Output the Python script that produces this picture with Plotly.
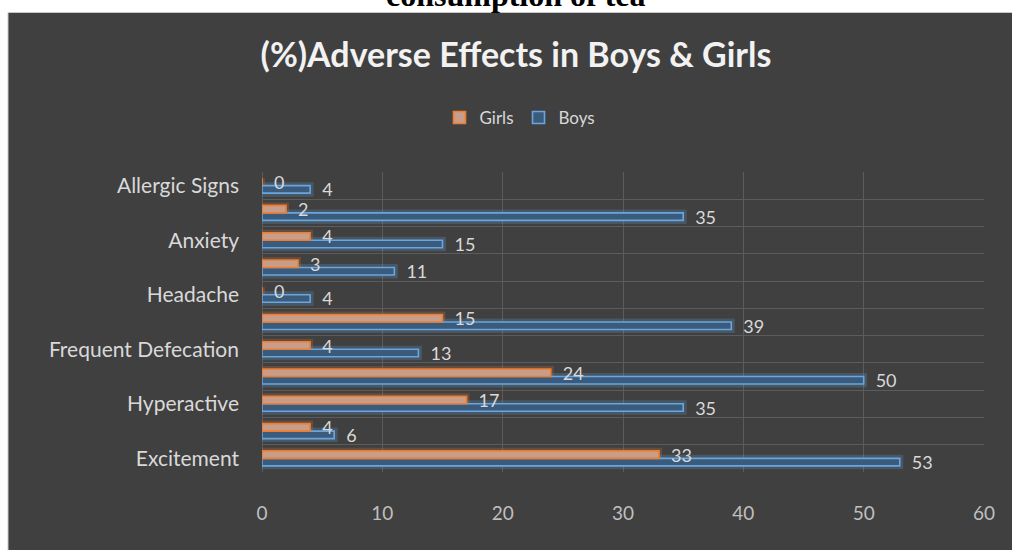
import plotly.graph_objects as go

# Categories listed top-to-bottom as they appear in the chart
categories = ["Allergic Signs", "Row 2", "Anxiety", "Row 4", "Headache", "Row 6",
              "Frequent Defecation", "Row 8", "Hyperactive", "Row 10", "Excitement"]
tick_labels = ["Allergic Signs", "", "Anxiety", "", "Headache", "",
               "Frequent Defecation", "", "Hyperactive", "", "Excitement"]
girls = [0, 2, 4, 3, 0, 15, 4, 24, 17, 4, 33]
boys = [4, 35, 15, 11, 4, 39, 13, 50, 35, 6, 53]
x_ticks = [0, 10, 20, 30, 40, 50, 60]

W, H = 1012, 550
L, R, T, B = 262, 28, 172, 78
PW, PH = W - L - R, H - T - B

def px_x(p):
    return (p - L) / PW

def px_y(p):
    return (H - B - p) / PH

BG = "#404040"
TXT = "#d9d9d9"
FONT = "Lato, 'Open Sans', sans-serif"

fig = go.Figure()

# glow layers (define offset group order: girls above boys)
fig.add_trace(go.Bar(y=categories, x=girls, orientation="h", offsetgroup="g",
                     marker=dict(color="rgba(0,0,0,0)", line=dict(color="rgba(237,125,49,0.22)", width=6)),
                     showlegend=False, hoverinfo="skip"))
fig.add_trace(go.Bar(y=categories, x=boys, orientation="h", offsetgroup="b",
                     marker=dict(color="rgba(0,0,0,0)", line=dict(color="rgba(91,155,213,0.25)", width=7)),
                     showlegend=False, hoverinfo="skip"))

# Boys drawn first so the Girls labels sit on top of the Boys bars
fig.add_trace(go.Bar(name="Boys", y=categories, x=boys, orientation="h", offsetgroup="b",
                     legendrank=2,
                     marker=dict(color="#3b5b7c", line=dict(color="#6aa6dd", width=1.6)),
                     text=boys, texttemplate="\u2002%{x}", textposition="outside",
                     constraintext="none", cliponaxis=False,
                     textfont=dict(color=TXT, size=18, family=FONT)))
fig.add_trace(go.Bar(name="Girls", y=categories, x=girls, orientation="h", offsetgroup="g",
                     legendrank=1,
                     marker=dict(color="#c89d8a", line=dict(color="#ed7d31", width=1.6)),
                     text=girls, texttemplate="\u2002%{x}", textposition="outside",
                     constraintext="none", cliponaxis=False,
                     textfont=dict(color=TXT, size=18, family=FONT)))

fig.update_layout(
    width=W, height=H,
    margin=dict(l=L, r=R, t=T, b=B, pad=0),
    paper_bgcolor="white",
    plot_bgcolor="rgba(0,0,0,0)",
    barmode="group", bargap=0.45, bargroupgap=0,
    font=dict(family=FONT, color=TXT, size=18),
    title=dict(text="(%)Adverse Effects in Boys & Girls", xref="paper", x=px_x(516), xanchor="center",
               yref="container", y=1 - 55 / H, yanchor="middle",
               font=dict(size=34, color="#f2f2f2", family=FONT, weight="bold")),
    legend=dict(orientation="h", x=px_x(520), xanchor="center", y=px_y(118), yanchor="middle",
                font=dict(size=17, color=TXT), bgcolor="rgba(0,0,0,0)",
                itemwidth=30),
    xaxis=dict(range=[0, 60], tickvals=x_ticks, showgrid=True, gridcolor="#5c5c5c", gridwidth=1,
               zeroline=True, zerolinecolor="#5c5c5c", zerolinewidth=1, showline=False,
               tickfont=dict(size=19, color="#bfbfbf"), ticks="", ticklabelstandoff=28, fixedrange=True),
    yaxis=dict(type="category", categoryorder="array", categoryarray=categories, autorange="reversed",
               tickmode="array", tickvals=categories, ticktext=tick_labels, tickson="boundaries",
               showgrid=True, gridcolor="#5c5c5c", gridwidth=1, ticks="", showline=False,
               tickfont=dict(size=21, color=TXT), ticklabelstandoff=22),
    shapes=[dict(type="rect", xref="paper", yref="paper", layer="below",
                 x0=px_x(8), x1=px_x(1030), y0=px_y(12.5), y1=px_y(580),
                 fillcolor=BG, line=dict(color="#c8c8c8", width=1))],
    annotations=[dict(text="<b>consumption of tea</b>", xref="paper", yref="paper",
                      x=px_x(516), y=px_y(15), xanchor="center", yanchor="bottom", showarrow=False,
                      font=dict(family="Liberation Serif, Times New Roman, serif", size=32, color="black"))],
)

fig.write_html("out.html")
